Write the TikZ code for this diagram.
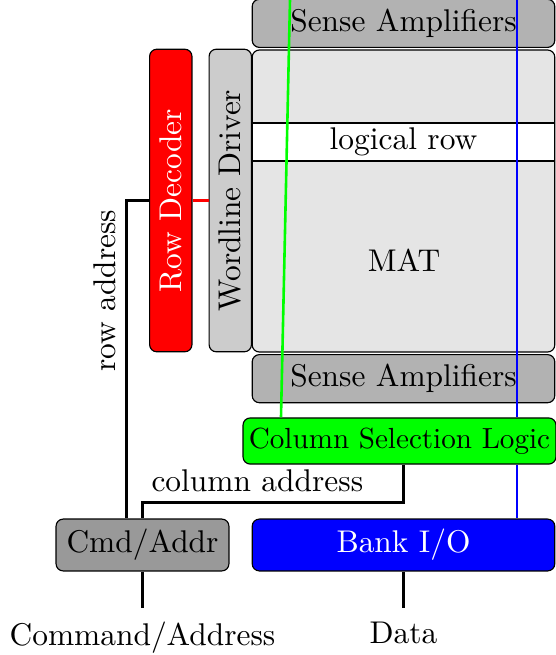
\documentclass[tikz,border=0pt]{standalone}
\usetikzlibrary{positioning}
\tikzstyle{block} = [draw=black, rounded corners=2.5pt, inner sep=0pt, text centered]
\tikzstyle{sense} = [block, fill=black!30, minimum width=105pt, minimum height=16.7pt]
\tikzstyle{driver} = [block, rotate=90, minimum width=105pt, minimum height=14.7pt]
\tikzstyle{port} = [inner sep=4.5pt]
\tikzstyle{wire} = [line width=1pt, draw=black]
\tikzstyle{bus} = [line width=0.9pt]

\begin{document}
\begin{tikzpicture}[x=0.347pt, y=-0.347pt, font=\fontsize{10.9pt}{13pt}\selectfont]
  \useasboundingbox (0,0) rectangle (556,655);
  % Draw nodes
  \node (mat)[block, fill=black!10, minimum width=105pt, minimum height=104.8pt] at (403.5,201) {};
  \node (matlabel) at (404,260) {MAT};
  \node (lr)[draw=black, fill=white, minimum width=105pt, minimum height=13.2pt, inner sep=0pt] at (403.5,142) {logical row};
  \node (sa1)[sense, above=0.5pt of mat] {Sense Amplifiers};
  \node (sa2)[sense, below=0.5pt of mat] {Sense Amplifiers};
  \node (wd)[driver, fill=black!20] at (230.3,200.5) {Wordline Driver};
  \node (rd)[driver, fill=red, text=white] at (170.8,200.5) {Row Decoder};
  \node (csl)[block, fill=green, minimum width=108.6pt, minimum height=16pt, font=\fontsize{10.1pt}{12pt}\selectfont] at (399.5,441) {Column Selection Logic};
  \node (ca)[block, fill=black!40, minimum width=60pt, minimum height=18pt] at (142.5,545) {Cmd/Addr};
  \node (bio)[block, fill=blue, text=white, minimum width=105pt, minimum height=18pt] at (403.5,545) {Bank I/O};
  \node (cmd)[port, below=12.8pt of ca] {Command/Address};
  \node (data)[port, below=12.8pt of bio] {Data};
  % Draw lines
  \coordinate (gtop) at (290,0);
  \coordinate (gfoot) at (281,0);
  \coordinate (btop) at (517,0);
  \draw [bus, green] (gtop) -- (csl.north -| gfoot);
  \draw [bus, blue] (btop) -- (btop |- csl.north);
  \draw [bus, blue] (btop |- csl.south) -- (btop |- bio.north);
  \draw [bus, red] (rd.south) -- (wd.north);
  \draw [wire] ([xshift=-5.55pt]ca.north) |- node[pos=0.358, above, sloped] {row address} (rd.north);
  \draw [wire] (csl.south -| bio.north) -- ++(0,38) -| node[pos=0.28, above] {column address} (ca.north);
  \draw [wire] (ca) -- (cmd);
  \draw [wire] (bio) -- (data);
\end{tikzpicture}
\end{document}
